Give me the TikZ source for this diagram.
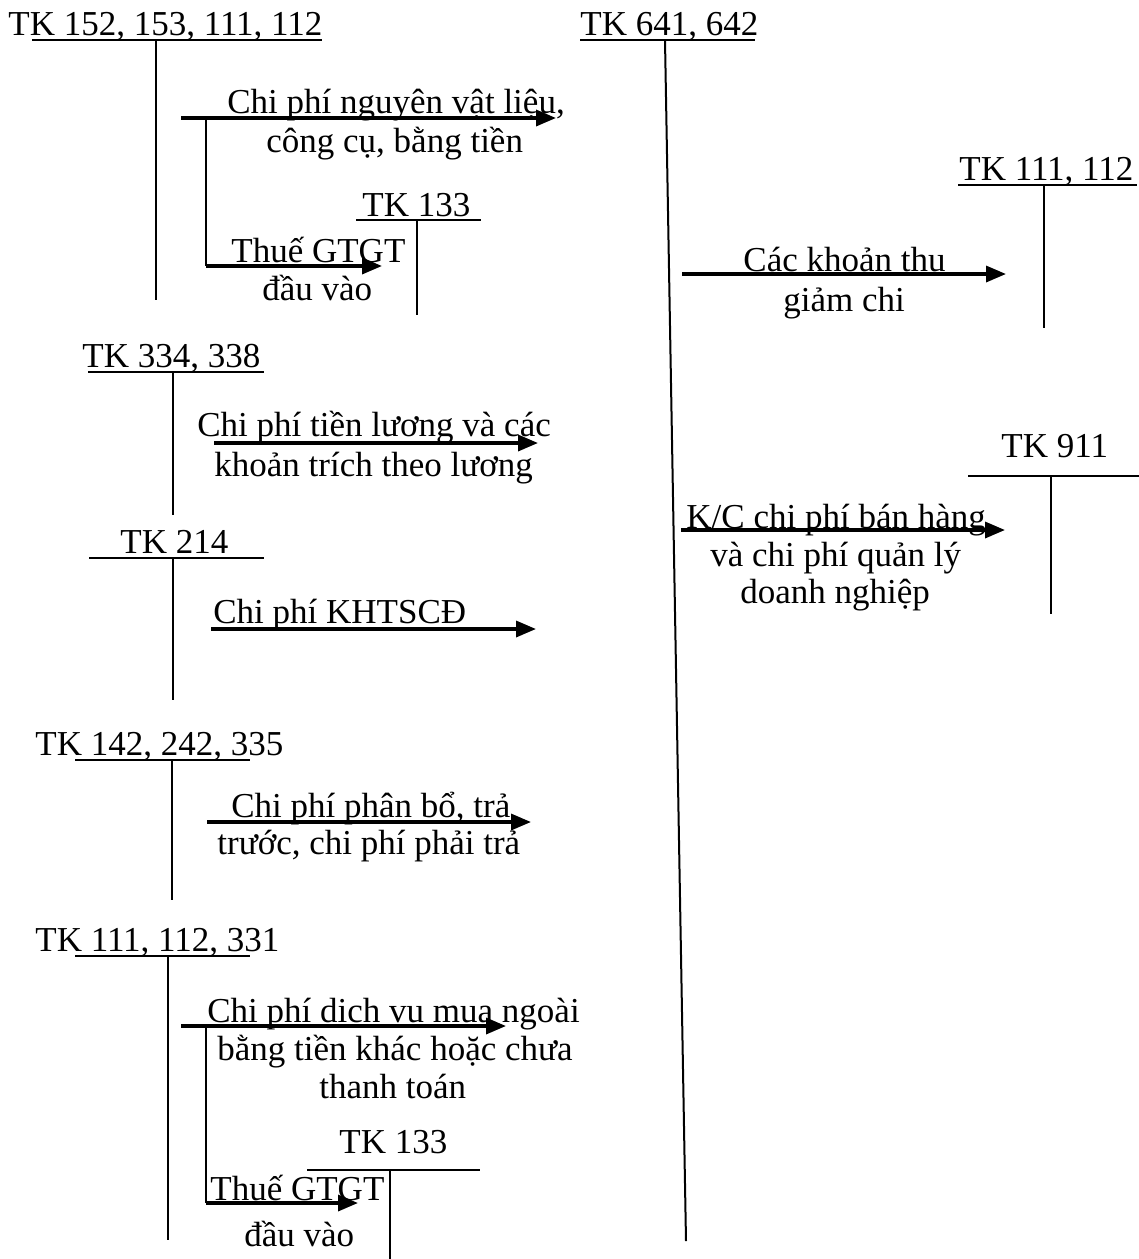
\documentclass[tikz,border=0pt]{standalone}
\usepackage{fontspec}
\setmainfont{Liberation Serif}
\usetikzlibrary{arrows.meta}
\begin{document}
\begin{tikzpicture}[x=0.5pt,y=-0.5pt,
  lbl/.style={anchor=base west,inner sep=0pt,font=\fontsize{17.5}{20}\selectfont},
  acct/.style={line width=1pt},
  flow/.style={line width=1.7pt,-{Triangle[length=10pt,width=8pt]}}]
\useasboundingbox (0,0) rectangle (1139,1259);

% ---- TK 152, 153, 111, 112 ----
\node[lbl] (t152) at (8,35) {TK 152, 153, 111, 112};
\draw[acct] (32,40) -- (322,40);
\draw[acct] (156,40) coordinate (t152top) -- (156,300) coordinate (t152bot);
\coordinate (a1s) at (181,118);
\coordinate (a1e) at (556,118);
\draw[flow] (a1s) -- (a1e);
\node[lbl] (l1a) at (227,113) {Chi phí nguyên vật liệu,};
\node[lbl] (l1b) at (266,152) {công cụ, bằng tiền};
\coordinate (b1s) at (206,118);
\coordinate (b1c) at (206,266);
\coordinate (b1e) at (382,266);
\draw[acct] (b1s) -- (b1c);
\draw[flow] (b1c) -- (b1e);
\node[lbl] (l2a) at (231,262) {Thuế GTGT};
\node[lbl] (l2b) at (262,300) {đầu vào};
% ---- TK 133 (upper) ----
\node[lbl] (t133a) at (362,216) {TK 133};
\draw[acct] (356,220) -- (481,220);
\draw[acct] (417,220) -- (417,315);

% ---- TK 641, 642 ----
\node[lbl] (t641) at (580,35) {TK 641, 642};
\draw[acct] (580,40) -- (755,40);
\draw[acct] (665,40) -- (686,1241);

% ---- TK 111, 112 (right) ----
\node[lbl] (t111r) at (959,180) {TK 111, 112};
\draw[acct] (958,185) -- (1137,185);
\draw[acct] (1044,185) -- (1044,328);
\coordinate (a2s) at (682,274);
\coordinate (a2e) at (1006,274);
\draw[flow] (a2s) -- (a2e);
\node[lbl] (l3a) at (743,271) {Các khoản thu};
\node[lbl] (l3b) at (783,311) {giảm chi};

% ---- TK 334, 338 ----
\node[lbl] (t334) at (82,367) {TK 334, 338};
\draw[acct] (88,372) -- (264,372);
\draw[acct] (173,372) -- (173,515);
\coordinate (a3s) at (214,443);
\coordinate (a3e) at (538,443);
\draw[flow] (a3s) -- (a3e);
\node[lbl] (l4a) at (197,436) {Chi phí tiền lương và các};
\node[lbl] (l4b) at (214,476) {khoản trích theo lương};

% ---- TK 214 ----
\node[lbl] (t214) at (120,553) {TK 214};
\draw[acct] (89,558) -- (264,558);
\draw[acct] (173,558) -- (173,700);
\coordinate (a4s) at (211,629);
\coordinate (a4e) at (536,629);
\draw[flow] (a4s) -- (a4e);
\node[lbl] (l5) at (213,623) {Chi phí KHTSCĐ};

% ---- TK 911 ----
\node[lbl] (t911) at (1001,457) {TK 911};
\draw[acct] (968,476) -- (1139,476);
\draw[acct] (1051,476) -- (1051,614);
\coordinate (a5s) at (681,530);
\coordinate (a5e) at (1005,530);
\draw[flow] (a5s) -- (a5e);
\node[lbl] (l6a) at (686,528) {K/C chi phí bán hàng};
\node[lbl] (l6b) at (710,566) {và chi phí quản lý};
\node[lbl] (l6c) at (740,603) {doanh nghiệp};

% ---- TK 142, 242, 335 ----
\node[lbl] (t142) at (35,755) {TK 142, 242, 335};
\draw[acct] (75,760) -- (250,760);
\draw[acct] (172,760) -- (172,900);
\coordinate (a6s) at (207,822);
\coordinate (a6e) at (531,822);
\draw[flow] (a6s) -- (a6e);
\node[lbl] (l7a) at (231,817) {Chi phí phân bổ, trả};
\node[lbl] (l7b) at (217,854) {trước, chi phí phải trả};

% ---- TK 111, 112, 331 ----
\node[lbl] (t331) at (35,951) {TK 111, 112, 331};
\draw[acct] (75,956) -- (250,956);
\draw[acct] (168,956) -- (168,1240);
\coordinate (a7s) at (181,1026);
\coordinate (a7e) at (506,1026);
\draw[flow] (a7s) -- (a7e);
\node[lbl] (l8a) at (207,1022) {Chi phí dịch vụ mua ngoài};
\node[lbl] (l8b) at (217,1060) {bằng tiền khác hoặc chưa};
\node[lbl] (l8c) at (319,1098) {thanh toán};
\coordinate (b2s) at (206,1026);
\coordinate (b2c) at (206,1203);
\coordinate (b2e) at (358,1203);
\draw[acct] (b2s) -- (b2c);
\draw[flow] (b2c) -- (b2e);
\node[lbl] (l9a) at (210,1200) {Thuế GTGT};
\node[lbl] (l9b) at (244,1246) {đầu vào};
% ---- TK 133 (lower) ----
\node[lbl] (t133b) at (339,1153) {TK 133};
\draw[acct] (307,1170) -- (480,1170);
\draw[acct] (390,1170) -- (390,1259);
\end{tikzpicture}
\end{document}
